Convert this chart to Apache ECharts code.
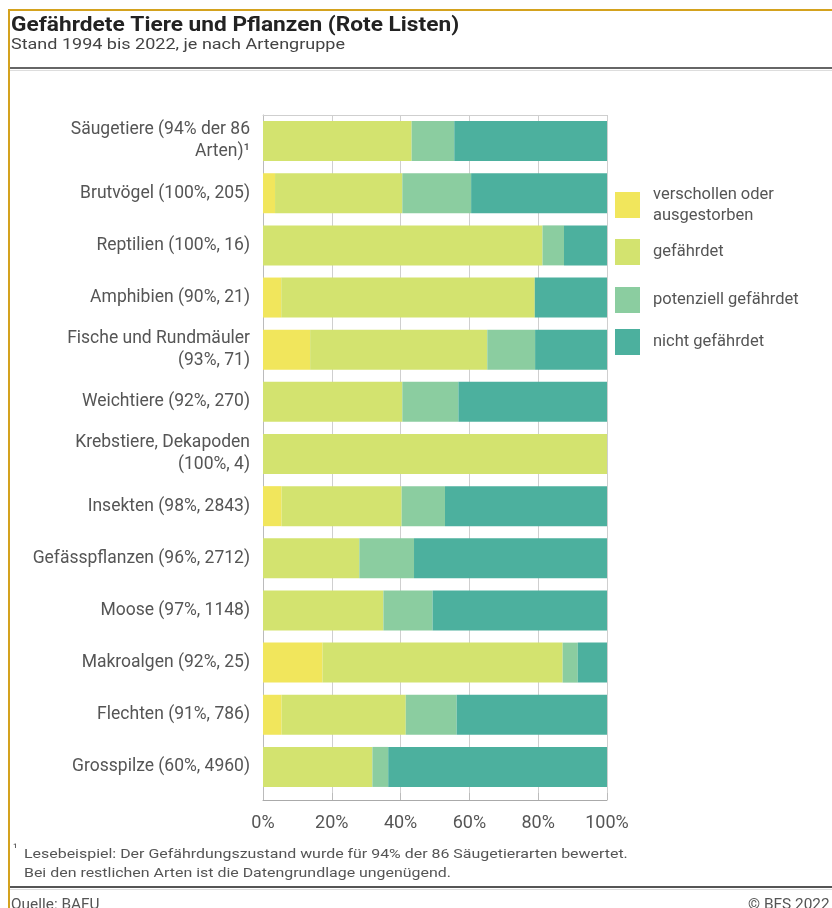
<!DOCTYPE html>
<html>
<head>
<meta charset="utf-8">
<script src="https://cdn.jsdelivr.net/npm/echarts@6/dist/echarts.min.js"></script>
<style>
html,body{margin:0;padding:0;background:#fff;}
#c{width:832px;height:908px;}
</style>
</head>
<body>
<div id="c"></div>
<script>
// ---- data ----
const categories = [
  'Säugetiere (94% der 86\nArten)¹',
  'Brutvögel (100%, 205)',
  'Reptilien (100%, 16)',
  'Amphibien (90%, 21)',
  'Fische und Rundmäuler\n(93%, 71)',
  'Weichtiere (92%, 270)',
  'Krebstiere, Dekapoden\n(100%, 4)',
  'Insekten (98%, 2843)',
  'Gefässpflanzen (96%, 2712)',
  'Moose (97%, 1148)',
  'Makroalgen (92%, 25)',
  'Flechten (91%, 786)',
  'Grosspilze (60%, 4960)'
];
const seriesNames = ['verschollen oder\nausgestorben', 'gefährdet', 'potenziell gefährdet', 'nicht gefährdet'];
const verschollen = [0, 3.5, 0, 5.3, 13.7, 0, 0, 5.4, 0, 0, 17.3, 5.4, 0];
const gefaehrdet  = [43.2, 37.0, 81.25, 73.7, 51.5, 40.5, 100, 34.9, 28.0, 35.0, 69.8, 36.1, 31.8];
const potenziell  = [12.4, 20.0, 6.25, 0, 13.9, 16.3, 0, 12.6, 15.9, 14.3, 4.4, 14.8, 4.6];
const nicht       = [44.4, 39.5, 12.5, 21.0, 20.9, 43.2, 0, 47.1, 56.1, 50.7, 8.5, 43.7, 63.6];
const xTicks = [0, 20, 40, 60, 80, 100];

const colors = ['#f1e65c', '#d3e36f', '#8bcda0', '#4cb09e'];
const FONT = 'Roboto, "Noto Sans", sans-serif';
const values = [verschollen, gefaehrdet, potenziell, nicht];

const chart = echarts.init(document.getElementById('c'), null, {renderer: 'canvas'});

const legendTops = [184, 239, 287, 329];
const legends = seriesNames.map((n, i) => ({
  data: [n],
  left: 615,
  top: legendTops[i],
  padding: 0,
  orient: 'vertical',
  icon: 'rect',
  itemWidth: 25,
  itemHeight: 26,
  selectedMode: false,
  textStyle: {fontFamily: FONT, fontSize: 16.5, color: '#555', lineHeight: 21, padding: [0, 0, 0, 8]}
}));

function txt(x, y, text, size, sx, extra) {
  return Object.assign({
    type: 'text', x: x, y: y, scaleX: sx, scaleY: 1,
    style: Object.assign({text: text, x: 0, y: 0, fontFamily: FONT, fontSize: size, fill: '#555', verticalAlign: 'top'}, extra || {})
  });
}

const option = {
  animation: false,
  backgroundColor: '#fff',
  color: colors,
  textStyle: {fontFamily: FONT},
  grid: {left: 263, right: 225, top: 115, bottom: 115, containLabel: false},
  legend: legends,
  xAxis: [{
    type: 'value', min: 0, max: 100, interval: 20,
    position: 'bottom',
    offset: 7,
    axisLine: {show: true, lineStyle: {color: '#aaa', width: 1}},
    axisTick: {show: true, inside: true, length: 7, lineStyle: {color: '#bbb'}},
    axisLabel: {formatter: v => xTicks.includes(v) ? v + '%' : '', fontFamily: FONT, fontSize: 18, color: '#555', margin: 14},
    splitLine: {show: true, lineStyle: {color: '#cfcfcf', width: 1}}
  }, {
    type: 'value', min: 0, max: 100, interval: 20,
    position: 'top',
    axisLine: {show: true, lineStyle: {color: '#cfcfcf', width: 1}},
    axisTick: {show: false},
    axisLabel: {show: false},
    splitLine: {show: false}
  }],
  yAxis: {
    type: 'category',
    inverse: true,
    data: categories,
    axisLine: {show: true, lineStyle: {color: '#bbb'}},
    axisTick: {show: false},
    axisLabel: {fontFamily: FONT, fontSize: 17.5, color: '#555', margin: 13, lineHeight: 22, align: 'right'}
  },
  series: seriesNames.map((n, i) => ({
    name: n,
    type: 'bar',
    stack: 'total',
    barWidth: 40,
    xAxisIndex: 0,
    itemStyle: {color: colors[i]},
    data: values[i]
  })),
  graphic: [
    // gold frame
    {type: 'line', shape: {x1: 8, y1: 10, x2: 832, y2: 10}, style: {stroke: '#d4a21e', lineWidth: 2}},
    {type: 'line', shape: {x1: 9, y1: 9, x2: 9, y2: 908}, style: {stroke: '#d4a21e', lineWidth: 2}},
    // title
    txt(11, 15, 'Gefährdete Tiere und Pflanzen (Rote Listen)', 21, 1.08, {fontWeight: 'bold', fill: '#222'}),
    txt(11, 38, 'Stand 1994 bis 2022, je nach Artengruppe', 15, 1.2, {fill: '#444'}),
    {type: 'line', shape: {x1: 10, y1: 68, x2: 832, y2: 68}, style: {stroke: '#666', lineWidth: 2}},
    {type: 'line', shape: {x1: 10, y1: 70.5, x2: 832, y2: 70.5}, style: {stroke: '#ddd', lineWidth: 1}},
    // footnote
    txt(13, 843, '¹', 12, 1),
    txt(24, 845, 'Lesebeispiel: Der Gefährdungszustand wurde für 94% der 86 Säugetierarten bewertet.\nBei den restlichen Arten ist die Datengrundlage ungenügend.', 13.5, 1.18, {lineHeight: 19}),
    {type: 'line', shape: {x1: 10, y1: 887, x2: 832, y2: 887}, style: {stroke: '#555', lineWidth: 2}},
    {type: 'line', shape: {x1: 10, y1: 889.5, x2: 832, y2: 889.5}, style: {stroke: '#ddd', lineWidth: 1}},
    txt(11, 898, 'Quelle: BAFU', 14, 1.1),
    txt(748, 898, '© BFS 2022', 14, 1.1)
  ]
};
chart.setOption(option);
</script>
</body>
</html>
